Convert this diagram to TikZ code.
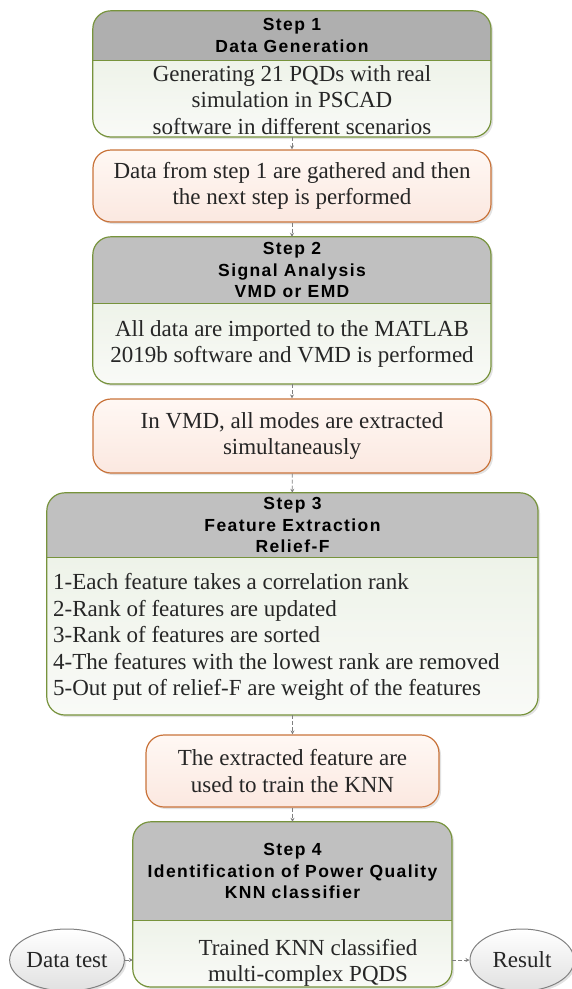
\documentclass[tikz,border=0pt]{standalone}
\usepackage{fontspec}
\setmainfont{Liberation Serif}
\newfontfamily\hdfont[LetterSpace=8]{Liberation Sans}
\usetikzlibrary{shapes.geometric,arrows.meta,backgrounds,shadows}
\definecolor{grnline}{HTML}{77933C}
\definecolor{hdgray}{HTML}{C0C0C0}
\definecolor{hdgrayd}{HTML}{AFAFAF}
\definecolor{grntop}{HTML}{EEF3E9}
\definecolor{grnbot}{HTML}{F9FAF7}
\definecolor{orgline}{HTML}{C9733A}
\definecolor{orgtop}{HTML}{FFF8F4}
\definecolor{orgbot}{HTML}{FBE8E0}
\definecolor{elline}{HTML}{808080}
\definecolor{shadowc}{HTML}{E2E2E2}
\definecolor{flowc}{HTML}{7F7F7F}
\definecolor{txtc}{HTML}{262626}
\tikzset{
  hdr/.style={inner sep=0pt, align=center, font=\hdfont\bfseries\fontsize{17.5}{21.5}\selectfont},
  bodytxt/.style={inner sep=0pt, align=center, text=txtc, font=\fontsize{23}{26.5}\selectfont},
  note/.style={draw=orgline, line width=1.2pt, rounded corners=18, top color=orgtop, bottom color=orgbot,
    drop shadow={fill=shadowc, opacity=1, shadow xshift=2pt, shadow yshift=-2pt},
    align=center, inner sep=0pt, text=txtc, font=\fontsize{23}{26.5}\selectfont},
  oval/.style={ellipse, draw=elline, line width=1pt, top color=white, bottom color=black!12,
    drop shadow={fill=shadowc, opacity=1, shadow xshift=2pt, shadow yshift=-2pt},
    minimum width=104, minimum height=62, inner sep=0pt, text=txtc, font=\fontsize{23}{26.5}\selectfont},
  flow/.style={draw=flowc, line width=0.8pt, dash pattern=on 4pt off 2pt, -{Stealth[length=4pt,width=4pt]}}
}
\begin{document}
\begin{tikzpicture}[x=1pt,y=-1pt]
\useasboundingbox (0,0) rectangle (572,989);
\node[hdr, minimum width=398, minimum height=49](H1) at (292,35.5){Step 1\\Data Generation};
\coordinate (C1) at (491,137);
\node[bodytxt](B1) at (292,100){Generating 21 PQDs with real\\simulation in PSCAD\\software in different scenarios};
\node[note, minimum width=398, minimum height=72](O1) at (292,186){Data from step 1 are gathered and then\\the next step is performed};
\node[hdr, minimum width=398, minimum height=66](H2) at (292,270){Step 2\\Signal Analysis\\VMD or EMD};
\coordinate (C2) at (491,384);
\node[bodytxt](B2) at (292,344){All data are imported to the MATLAB\\2019b software and VMD is performed};
\node[note, minimum width=398, minimum height=74](O2) at (292,436){In VMD, all modes are extracted\\simultaneausly};
\node[hdr, minimum width=491, minimum height=64](H3) at (292.5,525){Step 3\\Feature Extraction\\Relief-F};
\coordinate (C3) at (538,715);
\node[bodytxt, align=left, anchor=west](B3) at (53,637){1-Each feature takes a correlation rank\\2-Rank of features are updated\\3-Rank of features are sorted\\4-The features with the lowest rank are removed\\5-Out put of relief-F are weight of the features};
\node[note, minimum width=293, minimum height=72](O3) at (292.5,771){The extracted feature are\\used to train the KNN};
\node[hdr, minimum width=319, minimum height=98](H4) at (292.5,871){Step 4\\Identification of Power Quality\\KNN classifier};
\coordinate (C4) at (452,987);
\node[bodytxt](B4) at (308,963){Trained KNN classified\\multi-complex PQDS};
\node[oval](E1) at (67,960){Data test};
\node[oval](E2) at (522,960){Result};
\begin{scope}[on background layer]
\foreach \h/\c/\g in {H1/C1/hdgrayd, H2/C2/hdgray, H3/C3/hdgray, H4/C4/hdgray}{
  \fill[shadowc, rounded corners=18] ([shift={(2,2)}]\h.north west) rectangle ([shift={(2,2)}]\c);
  \begin{scope}
    \clip[rounded corners=18] (\h.north west) rectangle (\c);
    \shade[top color=grntop, bottom color=grnbot] (\h.south west) rectangle (\c);
    \fill[\g] (\h.north west) rectangle (\h.south east);
  \end{scope}
  \draw[grnline, line width=1.2pt, rounded corners=18] (\h.north west) rectangle (\c);
  \draw[grnline, line width=1.2pt] (\h.south west) -- (\h.south east);
}
\end{scope}
\draw[flow] (H1 |- C1) -- (O1);
\draw[flow] (O1) -- (H2);
\draw[flow] (H2 |- C2) -- (O2);
\draw[flow] (O2) -- (H3);
\draw[flow] (H3 |- C3) -- (O3);
\draw[flow] (O3) -- (H4);
\draw[flow] (E1) -- (E1 -| H4.west);
\draw[flow] (C4 |- E2) -- (E2);
\end{tikzpicture}
\end{document}
